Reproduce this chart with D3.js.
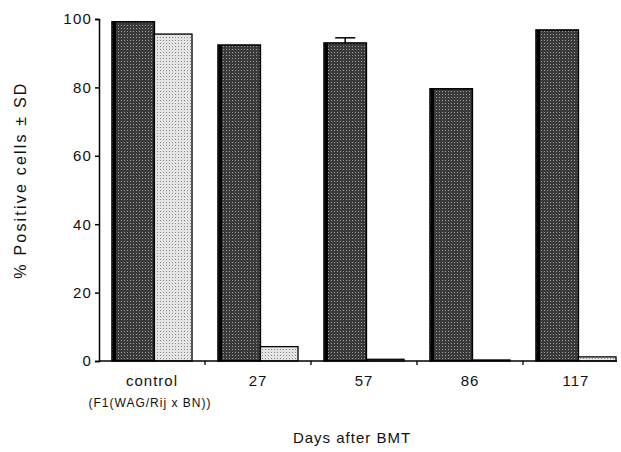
<!DOCTYPE html>
<head>
  <meta charset="utf-8">
  <script src="https://d3js.org/d3.v7.min.js"></script>
  <style>
    body { margin:0; background:#fff; }
    text { font-family: "Liberation Sans", Arial, sans-serif; fill:#111; }
  </style>
</head>
<body>
<script>
// groups along the x axis
const groups = ["control", "27", "57", "86", "117"];
// donor (dark) and host (light) percentages
const dark  = [99.2, 92.4, 93.0, 79.6, 96.8];
const light = [95.6, 4.2, 0.5, 0.3, 1.2];
const darkSD = [0, 0, 1.5, 0, 0];
const yTicks = [0, 20, 40, 60, 80, 100];

const width = 621, height = 452;

const svg = d3.select("body").append("svg")
    .attr("width", width)
    .attr("height", height);

const defs = svg.append("defs");
// stipple textures for the scanned-looking fills
const pd = defs.append("pattern").attr("id", "pd")
    .attr("width", 3).attr("height", 3).attr("patternUnits", "userSpaceOnUse");
pd.append("rect").attr("width", 3).attr("height", 3).attr("fill", "#3a3a3a");
pd.append("rect").attr("x", 1).attr("y", 1).attr("width", 1).attr("height", 1).attr("fill", "#9a9a9a");
const pl = defs.append("pattern").attr("id", "pl")
    .attr("width", 3).attr("height", 3).attr("patternUnits", "userSpaceOnUse");
pl.append("rect").attr("width", 3).attr("height", 3).attr("fill", "#e4e4e4");
pl.append("rect").attr("x", 1).attr("y", 1).attr("width", 1).attr("height", 1).attr("fill", "#8a8a8a");

const x = d3.scaleBand()
    .domain(groups)
    .range([99, 629])
    .paddingInner(0.245)
    .paddingOuter(0.1225);

const y = d3.scaleLinear()
    .domain([0, 100])
    .range([361, 19]);

const g = svg.append("g");

// bars
groups.forEach((d, i) => {
  const x0 = x(d), bw = x.bandwidth();
  const wd = bw * 0.53;
  g.append("rect")
      .attr("x", x0).attr("y", y(dark[i]))
      .attr("width", wd).attr("height", y(0) - y(dark[i]))
      .attr("fill", "url(#pd)")
      .attr("stroke", "#000").attr("stroke-width", 1.5);
  g.append("rect")
      .attr("x", x0 + 1).attr("y", y(dark[i]))
      .attr("width", 3).attr("height", y(0) - y(dark[i]))
      .attr("fill", "#000");
  g.append("rect")
      .attr("x", x0 + wd).attr("y", y(light[i]))
      .attr("width", bw - wd).attr("height", y(0) - y(light[i]))
      .attr("fill", "url(#pl)")
      .attr("stroke", "#000").attr("stroke-width", 1.3);
  if (darkSD[i] > 0) {
    const cx = x0 + wd / 2;
    g.append("line")
        .attr("x1", cx).attr("x2", cx)
        .attr("y1", y(dark[i])).attr("y2", y(dark[i] + darkSD[i]))
        .attr("stroke", "#000").attr("stroke-width", 1.5);
    g.append("line")
        .attr("x1", cx - 10).attr("x2", cx + 10)
        .attr("y1", y(dark[i] + darkSD[i])).attr("y2", y(dark[i] + darkSD[i]))
        .attr("stroke", "#000").attr("stroke-width", 1.5);
  }
});

// y axis
const yAxis = svg.append("g")
    .attr("transform", "translate(99,0)")
    .call(d3.axisLeft(y).tickValues(yTicks).tickSize(4).tickPadding(3));
yAxis.select(".domain").attr("stroke-width", 1.5);
yAxis.selectAll(".tick line").attr("stroke-width", 1.5);
yAxis.selectAll("text")
    .attr("font-family", "Liberation Sans, Arial, sans-serif")
    .style("font-size", "15px")
    .style("letter-spacing", "1.2px")
    .attr("fill", "#111");

// x axis line and separator ticks
const xAxis = svg.append("g");
xAxis.append("line")
    .attr("x1", 99).attr("x2", 617)
    .attr("y1", y(0)).attr("y2", y(0))
    .attr("stroke", "#000").attr("stroke-width", 1.5);
groups.slice(1).forEach(d => {
  const xs = x(d) - x.step() * x.paddingInner() / 2;
  xAxis.append("line")
      .attr("x1", xs).attr("x2", xs)
      .attr("y1", y(0)).attr("y2", y(0) + 4)
      .attr("stroke", "#000").attr("stroke-width", 1.3);
});

groups.forEach(d => {
  svg.append("text")
      .attr("x", x(d) + x.bandwidth() / 2)
      .attr("y", 386)
      .attr("text-anchor", "middle")
      .style("font-size", "15px")
      .style("letter-spacing", "1px")
      .text(d);
});

svg.append("text")
    .attr("x", x("control") + x.bandwidth() / 2 - 2)
    .attr("y", 407)
    .attr("text-anchor", "middle")
    .style("font-size", "12px")
    .style("letter-spacing", "1px")
    .text("(F1(WAG/Rij x BN))");

svg.append("text")
    .attr("x", 352)
    .attr("y", 443)
    .attr("text-anchor", "middle")
    .style("font-size", "15px")
    .style("letter-spacing", "1px")
    .text("Days after BMT");

svg.append("text")
    .attr("transform", "translate(26,180) rotate(-90)")
    .attr("text-anchor", "middle")
    .style("font-size", "16px")
    .style("letter-spacing", "2.2px")
    .text("% Positive cells ± SD");
</script>
</body>
